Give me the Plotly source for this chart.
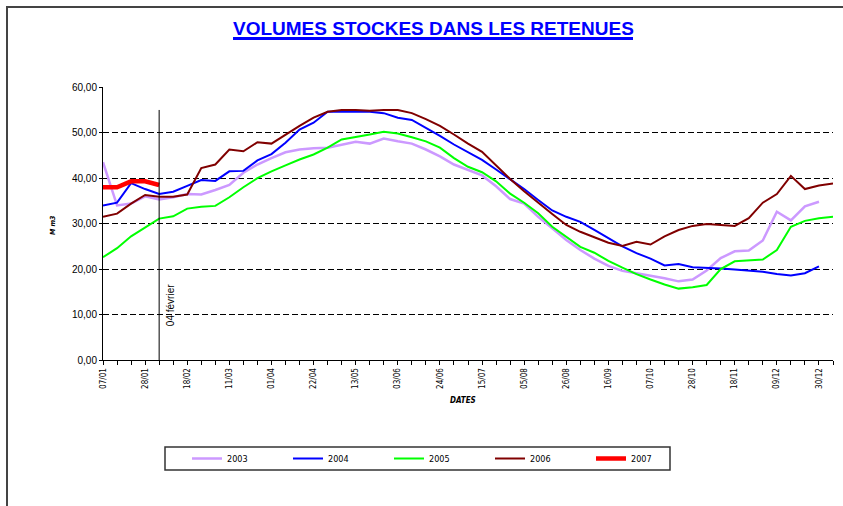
import plotly.graph_objects as go

dates = ["07/01","14/01","21/01","28/01","04/02","11/02","18/02","25/02","04/03","11/03",
         "18/03","25/03","01/04","08/04","15/04","22/04","29/04","06/05","13/05","20/05",
         "27/05","03/06","10/06","17/06","24/06","01/07","08/07","15/07","22/07","29/07",
         "05/08","12/08","19/08","26/08","02/09","09/09","16/09","23/09","30/09","07/10",
         "14/10","21/10","28/10","04/11","11/11","18/11","25/11","02/12","09/12","16/12",
         "23/12","30/12","06/01"]

v2003 = [43.5,34.0,34.4,36.0,35.3,35.8,36.5,36.4,37.4,38.5,
         41.2,43.0,44.4,45.7,46.3,46.6,46.7,47.4,48.0,47.6,
         48.7,48.1,47.6,46.3,44.8,43.0,41.8,40.6,38.2,35.4,
         34.4,31.5,29.0,26.4,24.2,22.3,20.7,19.6,19.1,18.6,
         18.0,17.3,17.7,19.7,22.4,23.9,24.1,26.3,32.6,30.7,
         33.8,34.8,None]
v2004 = [34.0,34.6,38.9,37.6,36.5,37.0,38.3,39.6,39.4,41.5,
         41.6,43.9,45.3,47.8,50.7,52.2,54.6,54.6,54.6,54.6,
         54.3,53.3,52.8,51.1,49.3,47.4,45.7,44.0,41.9,39.8,
         37.6,35.2,32.9,31.5,30.4,28.6,26.8,25.0,23.5,22.3,
         20.8,21.1,20.4,20.3,20.1,19.9,19.6,19.4,18.9,18.6,
         19.1,20.6,None]
v2005 = [22.6,24.6,27.2,29.1,31.1,31.6,33.3,33.7,33.9,35.8,
         38.0,40.0,41.5,42.8,44.1,45.2,46.7,48.5,49.0,49.6,
         50.2,49.8,49.0,48.1,46.7,44.4,42.5,41.3,39.3,36.6,
         34.6,32.3,29.3,27.1,24.9,23.6,21.8,20.3,18.9,17.7,
         16.6,15.7,16.0,16.5,20.0,21.7,21.9,22.1,24.2,29.3,
         30.6,31.2,31.5]
v2006 = [31.5,32.2,34.4,36.3,35.9,35.9,36.4,42.2,43.0,46.3,
         45.9,47.9,47.6,49.6,51.5,53.3,54.6,55.0,55.0,54.8,
         55.0,55.0,54.3,53.0,51.5,49.6,47.6,45.8,42.8,39.8,
         37.1,34.5,32.1,29.7,28.2,27.0,25.8,25.1,26.0,25.4,
         27.2,28.6,29.5,29.9,29.7,29.5,31.2,34.6,36.5,40.5,
         37.6,38.4,38.8]
v2007 = [38.0,38.0,39.3,39.3,38.5]

series = [("2003", v2003, "#CC99FF", 2.5),
          ("2004", v2004, "#0000FF", 2),
          ("2005", v2005, "#00FF00", 2),
          ("2006", v2006, "#800000", 2),
          ("2007", v2007, "#FF0000", 4.5)]

y_ticks = [0, 10, 20, 30, 40, 50, 60]
y_labels = ["0,00", "10,00", "20,00", "30,00", "40,00", "50,00", "60,00"]

marker_week = 4
marker_label = "04 février"
marker_top = 55

FONT = "Liberation Sans, Arial, sans-serif"
NARROW = "Liberation Sans Narrow, Arial Narrow, DejaVu Sans Condensed, Liberation Sans, sans-serif"

idx = list(range(len(dates)))

fig = go.Figure()
for name, vals, color, w in series:
    fig.add_trace(go.Scatter(x=idx[:len(vals)], y=vals, mode="lines", name=name,
                             line=dict(color=color, width=w), connectgaps=False))

L, R, T, B = 103, 10, 87, 146
W, H = 843, 506
pw, ph = W - L - R, H - T - B

def px_x(p):
    return (p - L) / pw

def px_y(p):
    return (H - B - p) / ph

fig.update_layout(
    width=W, height=H, autosize=False,
    margin=dict(l=L, r=R, t=T, b=B, pad=0),
    paper_bgcolor="white", plot_bgcolor="white",
    font=dict(family=FONT, color="black", size=9),
    showlegend=True,
    legend=dict(orientation="h", x=px_x(187), y=px_y(458.5), xanchor="left", yanchor="middle",
                bgcolor="rgba(0,0,0,0)", borderwidth=0,
                entrywidth=56, entrywidthmode="pixels",
                font=dict(family=NARROW, size=9), itemwidth=30),
    xaxis=dict(range=[0, len(dates) - 1], tickmode="array", tickvals=idx,
               ticktext=[d if i % 3 == 0 else "" for i, d in enumerate(dates)],
               tickangle=-90, ticks="outside", ticklen=4, tickcolor="black",
               showline=True, linecolor="black", linewidth=1,
               showgrid=False, zeroline=False,
               tickfont=dict(family=NARROW, size=8)),
    yaxis=dict(range=[0, 60.05], tickmode="array", tickvals=y_ticks, ticktext=y_labels,
               ticks="outside", ticklen=3, tickcolor="black",
               showline=True, linecolor="black", linewidth=1,
               showgrid=True, gridcolor="black", gridwidth=1, griddash="6px,3px",
               zeroline=False, tickfont=dict(family=FONT, size=10)),
)

fig.add_shape(type="line", xref="x", yref="y", x0=marker_week, x1=marker_week,
              y0=0, y1=marker_top, line=dict(color="black", width=1))
fig.add_annotation(x=marker_week, y=12.1, xref="x", yref="y", text=marker_label,
                   showarrow=False, textangle=-90, xshift=12,
                   font=dict(family=FONT, size=10, color="black"))

fig.add_annotation(x=px_x(433), y=px_y(28), xref="paper", yref="paper",
                   text="<b>VOLUMES STOCKES DANS LES RETENUES</b>",
                   showarrow=False, xanchor="center", yanchor="middle",
                   font=dict(family=FONT, size=19, color="#0000FF"))
fig.add_shape(type="line", xref="paper", yref="paper",
              x0=px_x(233), x1=px_x(633), y0=px_y(38.5), y1=px_y(38.5),
              line=dict(color="#0000FF", width=3))
fig.add_annotation(x=px_x(463), y=px_y(407), xref="paper", yref="paper",
                   text="<b><i>DATES</i></b>", showarrow=False,
                   font=dict(family=NARROW, size=8))
fig.add_annotation(x=px_x(47), y=px_y(225), xref="paper", yref="paper",
                   text="<b><i>M m3</i></b>", showarrow=False, textangle=-90,
                   font=dict(family=NARROW, size=7))

# outer frame and legend box
fig.add_shape(type="rect", xref="paper", yref="paper",
              x0=px_x(7), x1=px_x(900), y0=px_y(560), y1=px_y(7),
              line=dict(color="#444444", width=2))
fig.add_shape(type="rect", xref="paper", yref="paper",
              x0=px_x(165), x1=px_x(670), y0=px_y(470), y1=px_y(447),
              line=dict(color="#333333", width=1.5))

fig.write_html("out.html", config={"displayModeBar": False},
               post_script="document.body.style.margin='0px';")
